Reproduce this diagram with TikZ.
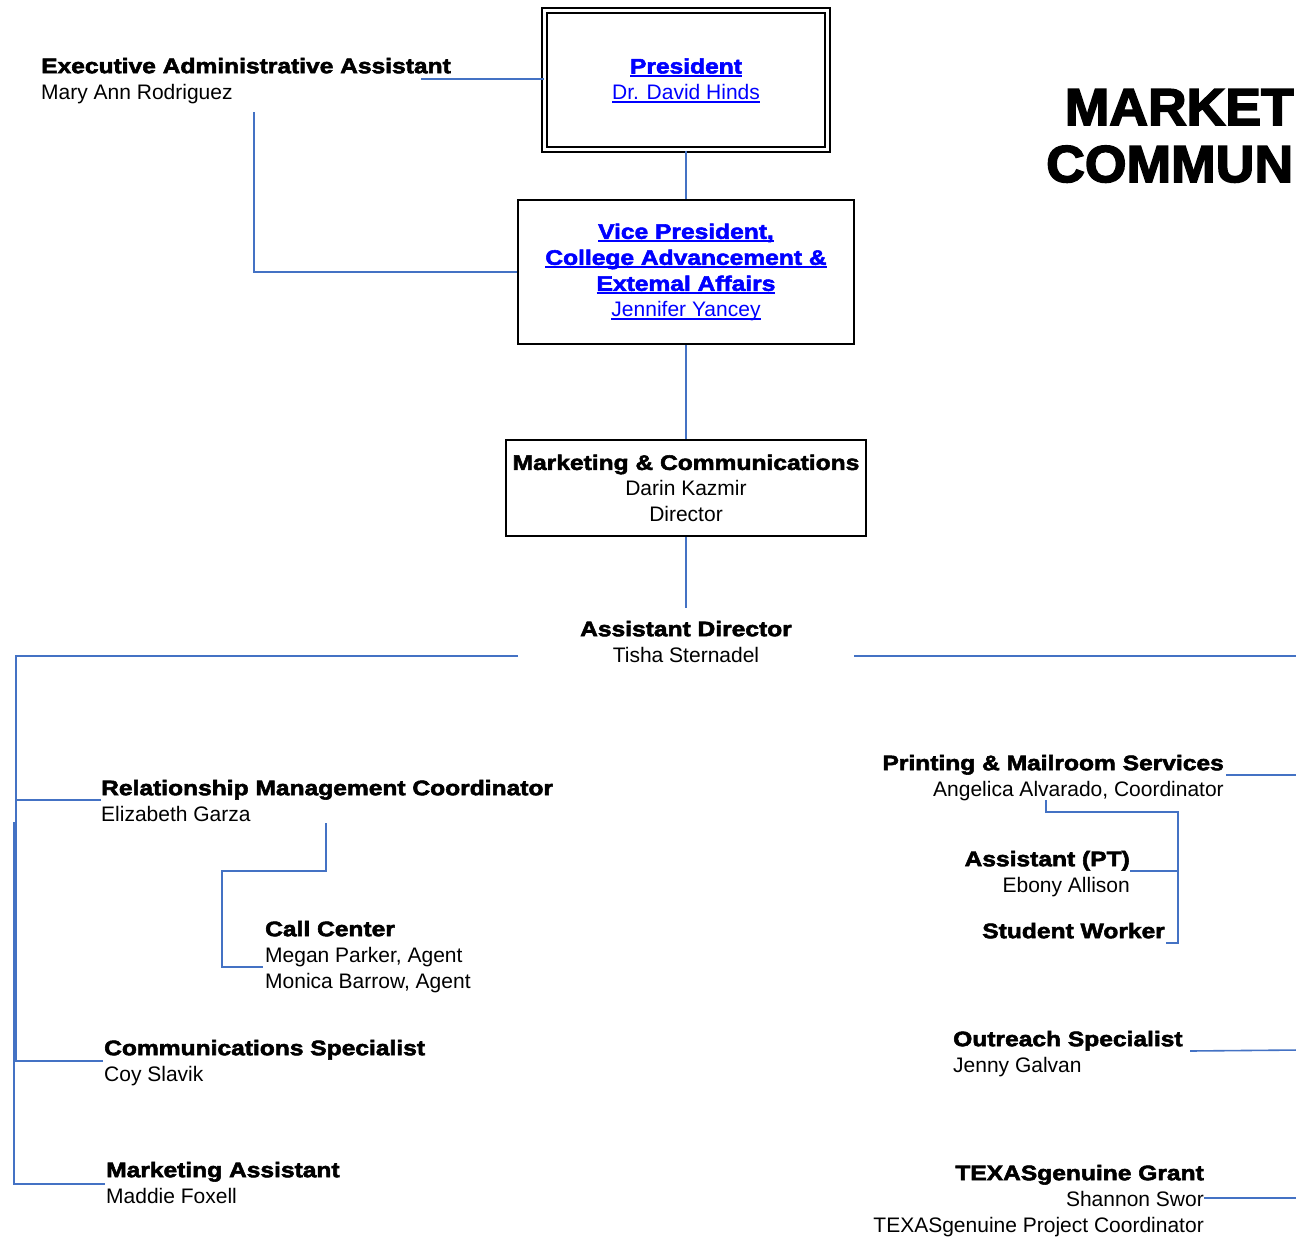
\documentclass[tikz,border=0pt]{standalone}
\usepackage{fontspec}
\setmainfont{Liberation Sans}
\newfontfamily\blk[FakeStretch=1.17,FakeBold=2.6]{Liberation Sans Bold}
\newfontfamily\ttlfont[FakeStretch=1.03,FakeBold=3]{Liberation Sans Bold}
\definecolor{linecol}{HTML}{4472C4}
\definecolor{linkblue}{RGB}{0,0,255}
\newcommand\fl{\rule{0pt}{16pt}}
\newcommand\lnk[1]{\setbox0\hbox{#1}\rlap{\rule[-3pt]{\wd0}{1.6pt}}\box0}
\begin{document}
\begin{tikzpicture}[x=1pt,y=-1pt,
  conn/.style={draw=linecol,line width=1.6pt},
  txt/.style={inner sep=0pt,font=\fontsize{21}{26}\selectfont},
  box/.style={draw=black,line width=2pt,fill=white,inner sep=0pt,align=center,
    font=\fontsize{21}{26}\selectfont},
  ttl/.style={inner sep=0pt,font=\fontsize{52}{60}\ttlfont}]
\useasboundingbox (0,0) rectangle (1296,1237);
\clip (0,0) rectangle (1296,1237);
\fill[white] (0,0) rectangle (1296,1237);

% boxes
\node[box,double,double distance=3pt,minimum width=283,minimum height=139,text=linkblue]
  (pres) at (686,80) {\fl\blk\lnk{President}\\\lnk{Dr. David Hinds}};
\node[box,minimum width=336,minimum height=144,text=linkblue]
  (vp) at (686,272) {\fl\blk\lnk{Vice President,}\\\blk\lnk{College Advancement \&}\\\blk\lnk{Extemal Affairs}\\\lnk{Jennifer Yancey}};
\node[box,minimum width=360,minimum height=96]
  (dir) at (686,488) {\fl\blk Marketing \& Communications\\Darin Kazmir\\Director};

% title
\node[ttl,anchor=base east] (t1) at (1294,125) {MARKET};
\node[ttl,anchor=base west] (t2) at (1046,182) {COMMUN};

% text blocks
\node[txt,anchor=north west,align=left] (exec) at (41,57) {\fl\blk Executive Administrative Assistant\\Mary Ann Rodriguez};
\node[txt,anchor=north,align=center] (ad) at (686,620) {\fl\blk Assistant Director\\Tisha Sternadel};
\node[txt,anchor=north west,align=left] (rm) at (101,779) {\fl\blk Relationship Management Coordinator\\Elizabeth Garza};
\node[txt,anchor=north west,align=left] (cc) at (265,920) {\fl\blk Call Center\\Megan Parker, Agent\\Monica Barrow, Agent};
\node[txt,anchor=north west,align=left] (cs) at (104,1039) {\fl\blk Communications Specialist\\Coy Slavik};
\node[txt,anchor=north west,align=left] (ma) at (106,1161) {\fl\blk Marketing Assistant\\Maddie Foxell};
\node[txt,anchor=north east,align=right] (pm) at (1224,754) {\fl\blk Printing \& Mailroom Services\\Angelica Alvarado, Coordinator};
\node[txt,anchor=north east,align=right] (apt) at (1130,850) {\fl\blk Assistant (PT)\\Ebony Allison};
\node[txt,anchor=north east,align=right] (sw) at (1165,922) {\fl\blk Student Worker};
\node[txt,anchor=north west,align=left] (os) at (953,1030) {\fl\blk Outreach Specialist\\Jenny Galvan};
\node[txt,anchor=north east,align=right] (tg) at (1204,1164) {\fl\blk TEXASgenuine Grant\\Shannon Swor\\TEXASgenuine Project Coordinator};

% coordinates
\coordinate (execR) at (421,79);
\coordinate (execB) at (254,112);
\coordinate (adTop) at (686,608);
\coordinate (adL) at (518,656);
\coordinate (adR) at (854,656);
\coordinate (spL) at (16,656);
\coordinate (rmL) at (101,800);
\coordinate (csL) at (103,1061);
\coordinate (sp2) at (14,822);
\coordinate (maL) at (105,1184);
\coordinate (rmB) at (326,823);
\coordinate (ccL) at (263,967);
\coordinate (edgeAD) at (1300,656);
\coordinate (pmR) at (1226,775);
\coordinate (edgePM) at (1300,775);
\coordinate (pmB) at (1046,800);
\coordinate (swR) at (1166,943);
\coordinate (aptR) at (1130,871);
\coordinate (osR) at (1190,1051);
\coordinate (edgeOS) at (1300,1050);
\coordinate (tgR) at (1204,1198);
\coordinate (edgeTG) at (1300,1198);

% connectors
\draw[conn] (execR) -- (pres.west |- execR);
\draw[conn] (execB) |- (vp.west);
\draw[conn] (pres.south) -- (vp.north);
\draw[conn] (vp.south) -- (dir.north);
\draw[conn] (dir.south) -- (adTop);
\draw[conn] (adL) -- (spL) -- (spL |- csL) -- (csL);
\draw[conn] (spL |- rmL) -- (rmL);
\draw[conn] (sp2) |- (maL);
\draw[conn] (rmB) -- (326,871) -| (222,967) -- (ccL);
\draw[conn] (adR) -- (edgeAD);
\draw[conn] (pmR) -- (edgePM);
\draw[conn] (pmB) -- (1046,812) -| (1178,943) -- (swR);
\draw[conn] (1178,871) -- (aptR);
\draw[conn] (osR) -- (edgeOS);
\draw[conn] (tgR) -- (edgeTG);
\end{tikzpicture}
\end{document}
